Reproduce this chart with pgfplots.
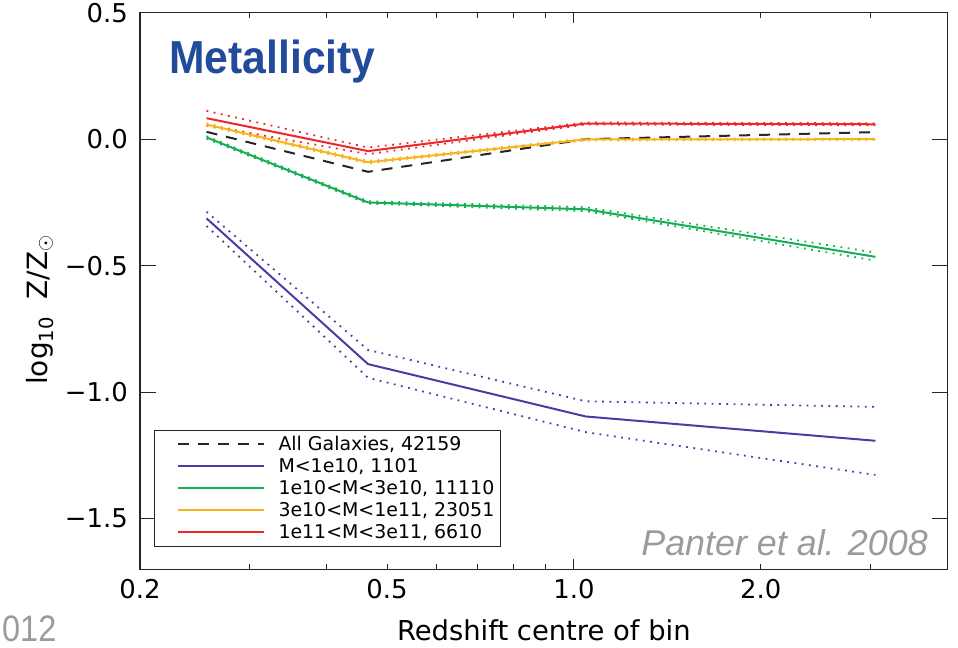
\documentclass[border=0pt]{standalone}
\usepackage{fontspec}
\setmainfont{DejaVu Sans}
\newfontfamily\libsans{Liberation Sans}
\usepackage{graphicx}
\usepackage{pgfplots}
\pgfplotsset{compat=1.18}
\definecolor{cblue}{RGB}{75,60,165}
\definecolor{cgreen}{RGB}{20,175,85}
\definecolor{corange}{RGB}{248,180,30}
\definecolor{cred}{RGB}{238,38,42}
\definecolor{metblue}{RGB}{35,75,155}
\definecolor{cgray}{RGB}{155,155,155}

\pgfplotstableread{
x     all     blue    bup     blo     green   gup     glo     orange  oup     olo     red     rup     rlo
0.256 0.029  -0.313  -0.287  -0.343   0.007   0.012   0.002   0.058   0.063   0.053   0.083   0.112   0.055
0.466 -0.129 -0.889  -0.833  -0.943  -0.250  -0.245  -0.255  -0.091  -0.086  -0.096  -0.047  -0.033  -0.059
1.045 0.000  -1.096  -1.036  -1.158  -0.277  -0.269  -0.284  -0.001   0.003  -0.005   0.062   0.066   0.058
3.06  0.028  -1.192  -1.058  -1.327  -0.465  -0.448  -0.480   0.000   0.003  -0.003   0.059   0.063   0.055
}\datatable

\tikzset{dotln/.style={line width=1.8bp, dash pattern=on 1.8bp off 5.5bp}}

\begin{document}
\begin{tikzpicture}
\begin{axis}[
  scale only axis, width=807.7bp, height=556.6bp,
  xmode=log, xmin=0.2, xmax=4, ymin=-1.7, ymax=0.5,
  axis line style={line width=1.2bp, black!85},
  tick style={line width=1.1bp, black!85},
  tick align=inside,
  major tick length=10bp, minor tick length=8bp,
  xtick={1}, xticklabels={1.0},
  extra x ticks={0.2,0.3,0.4,0.5,0.6,0.7,0.8,0.9,2,3},
  extra x tick labels={0.2,,,0.5,,,,,2.0,},
  extra x tick style={major tick length=5bp, grid=none},
  ytick=\empty,
  minor ytick={-1.7,-1.6,...,0.55},
  extra y ticks={-1.5,-1,-0.5,0,0.5},
  extra y tick labels={−1.5,−1.0,−0.5,0.0,0.5},
  extra y tick style={major tick length=16bp, grid=none},
  tick label style={font=\fontsize{26}{26}\selectfont, inner sep=0pt},
  xticklabel style={yshift=-10bp},
  yticklabel style={xshift=-12bp},
  xlabel={Redshift centre of bin},
  ylabel={log\textsubscript{10}\ \ Z/Z\textsubscript{$\odot$}},
  every axis x label/.style={at={(rel axis cs:0.5,0)}, yshift=-61bp, anchor=center, font=\fontsize{27.5}{27.5}\selectfont},
  every axis y label/.style={at={(rel axis cs:0,0.466)}, xshift=-100bp, rotate=90, anchor=center, font=\fontsize{28}{28}\selectfont},
  legend cell align=left,
  legend image code/.code={\path (0bp,0bp); \draw[#1] (16bp,0bp) -- (102bp,0bp);},
  legend style={at={(rel axis cs:0.0173,0.0406)}, anchor=south west,
    draw=black!85, line width=1.1bp, fill=white,
    font=\fontsize{19}{19}\selectfont,
    inner xsep=6bp, inner ysep=5bp, row sep=4bp,
    nodes={inner sep=0pt, text height=15bp, text depth=3bp},
    /tikz/every odd column/.append style={column sep=14bp}},
]
% dotted envelopes
\addplot[forget plot, cblue, dotln] table[x=x,y=bup]{\datatable};
\addplot[forget plot, cblue, dotln] table[x=x,y=blo]{\datatable};
\addplot[forget plot, cgreen, dotln] table[x=x,y=gup]{\datatable};
\addplot[forget plot, cgreen, dotln] table[x=x,y=glo]{\datatable};
\addplot[forget plot, corange, dotln] table[x=x,y=oup]{\datatable};
\addplot[forget plot, corange, dotln] table[x=x,y=olo]{\datatable};
\addplot[forget plot, cred, dotln] table[x=x,y=rup]{\datatable};
\addplot[forget plot, cred, dotln] table[x=x,y=rlo]{\datatable};
% main lines
\addplot[black!85, line width=2bp, dash pattern=on 11bp off 9bp] table[x=x,y=all]{\datatable};
\addlegendentry{All Galaxies, 42159}
\addplot[cblue, line width=2bp] table[x=x,y=blue]{\datatable};
\addlegendentry{M<1e10, 1101}
\addplot[cgreen, line width=2bp] table[x=x,y=green]{\datatable};
\addlegendentry{1e10<M<3e10, 11110}
\addplot[corange, line width=2bp] table[x=x,y=orange]{\datatable};
\addlegendentry{3e10<M<1e11, 23051}
\addplot[cred, line width=2bp] table[x=x,y=red]{\datatable};
\addlegendentry{1e11<M<3e11, 6610}

\node[anchor=base west, inner sep=0pt, text=metblue, font=\libsans\bfseries\fontsize{46.5}{46.5}\selectfont]
  at (rel axis cs:0,0) [xshift=29.3bp, yshift=495.3bp] {\scalebox{0.92}[1]{Metallicity}};
\node[anchor=base east, inner sep=0pt, text=cgray, font=\libsans\itshape\fontsize{36}{36}\selectfont]
  at (rel axis cs:1,0) [xshift=-19.7bp, yshift=14.3bp] {Panter et al. 2008};
\end{axis}
\node[anchor=base west, inner sep=0pt, text=cgray, font=\libsans\fontsize{37}{37}\selectfont]
  at (current axis.south west) [xshift=-138bp, yshift=-72.5bp] {\scalebox{0.88}[1]{012}};
\pgfresetboundingbox
\path[use as bounding box] (current axis.south west) ++(-140bp,-78.7bp) rectangle ++(958bp,648bp);
\end{tikzpicture}
\end{document}
